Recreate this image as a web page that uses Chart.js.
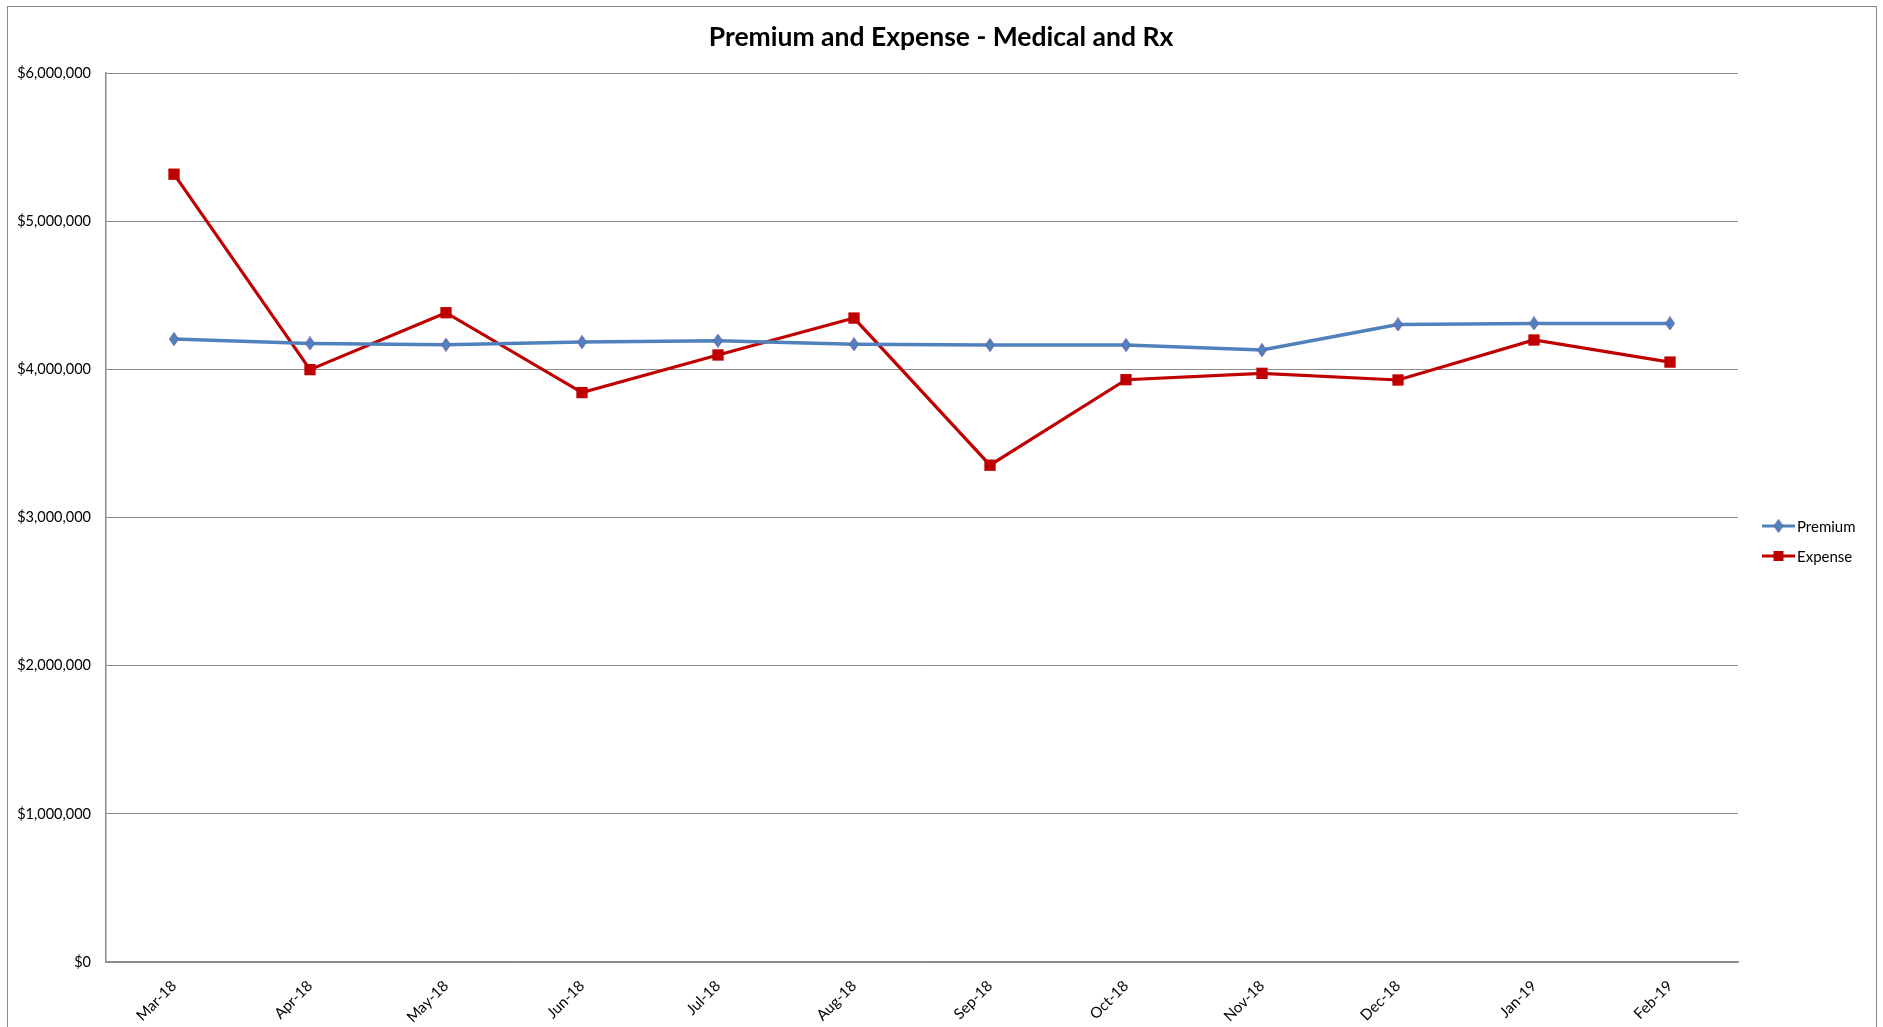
<!DOCTYPE html>
<html>
<head>
<meta charset="utf-8">
<script src="https://cdn.jsdelivr.net/npm/chart.js@4.4.0/dist/chart.umd.min.js"></script>
<style>
  html, body { margin: 0; padding: 0; background: #fff; overflow: hidden; }
  #wrap { width: 1883px; height: 1027px; position: relative; }
</style>
</head>
<body>
<div id="wrap"><canvas id="chart" width="1883" height="1027"></canvas></div>
<script>
const chartTitle = 'Premium and Expense - Medical and Rx';
const months = ['Mar-18', 'Apr-18', 'May-18', 'Jun-18', 'Jul-18', 'Aug-18',
                'Sep-18', 'Oct-18', 'Nov-18', 'Dec-18', 'Jan-19', 'Feb-19'];
const premium = [4204000, 4175000, 4166000, 4184000, 4193000, 4169000,
                 4164000, 4164000, 4130000, 4303000, 4310000, 4310000];
const expense = [5317000, 3998000, 4382000, 3843000, 4097000, 4346000,
                 3353000, 3930000, 3973000, 3928000, 4198000, 4049000];
const yTicks = [0, 1000000, 2000000, 3000000, 4000000, 5000000, 6000000];

const FONT = 'Lato, "Liberation Sans", sans-serif';
const blue = '#4F81BD';
const red = '#C00000';
const gridGray = '#8c8c8c';

// tall narrow diamond like the Excel marker
function makeDiamond() {
    const c = document.createElement('canvas');
    c.width = 10; c.height = 14;
    const g = c.getContext('2d');
    g.beginPath();
    g.moveTo(5, 0.5); g.lineTo(9.5, 7); g.lineTo(5, 13.5); g.lineTo(0.5, 7);
    g.closePath();
    g.fillStyle = blue;
    g.fill();
    g.strokeStyle = '#6a63a8';
    g.lineWidth = 1;
    g.stroke();
    return c;
}
const diamond = makeDiamond();

// title, legend and outer frame
const decor = {
    id: 'decor',
    afterDraw(chart) {
        const c = chart.ctx;
        c.save();
        c.strokeStyle = '#8a8a8a';
        c.lineWidth = 1;
        c.strokeRect(7.5, 6.5, 1869, 1100);

        c.fillStyle = '#000';
        c.font = 'bold 26.5px ' + FONT;
        c.textAlign = 'center';
        c.textBaseline = 'middle';
        c.fillText(chartTitle, 941, 37);

        c.font = '15px ' + FONT;
        c.textAlign = 'left';
        const items = [
            { label: 'Premium', color: blue, y: 526, mark: 'diamond' },
            { label: 'Expense', color: red, y: 556, mark: 'square' }
        ];
        items.forEach(it => {
            c.strokeStyle = it.color;
            c.lineWidth = 3;
            c.beginPath();
            c.moveTo(1762, it.y);
            c.lineTo(1795, it.y);
            c.stroke();
            if (it.mark === 'diamond') {
                c.drawImage(diamond, 1778.5 - 5, it.y - 7);
            } else {
                c.fillStyle = it.color;
                c.fillRect(1778.5 - 5, it.y - 5, 10, 10);
            }
            c.fillStyle = '#000';
            c.fillText(it.label, 1797, it.y + 1);
        });
        c.restore();
    }
};

const ctx = document.getElementById('chart').getContext('2d');
new Chart(ctx, {
    type: 'line',
    data: {
        labels: months,
        datasets: [{
            label: 'Premium',
            data: premium,
            borderColor: blue,
            backgroundColor: blue,
            borderWidth: 3.5,
            pointStyle: diamond,
            pointRadius: 6,
            pointHoverRadius: 6,
            tension: 0
        }, {
            label: 'Expense',
            data: expense,
            borderColor: red,
            backgroundColor: red,
            borderWidth: 3.2,
            pointStyle: 'rect',
            pointRadius: 8,
            pointHoverRadius: 8,
            pointBorderWidth: 0,
            tension: 0
        }]
    },
    options: {
        responsive: false,
        animation: false,
        layout: { padding: { left: 0, top: 73, right: 145, bottom: 0 } },
        plugins: {
            legend: { display: false },
            title: { display: false },
            tooltip: { enabled: false }
        },
        scales: {
            x: {
                offset: true,
                grid: { display: false },
                border: { display: true, color: gridGray, width: 1.5 },
                ticks: {
                    color: '#000',
                    font: { family: FONT, size: 15 },
                    minRotation: 45,
                    maxRotation: 45,
                    padding: 7
                },
                afterFit(scale) { scale.height = 65; }
            },
            y: {
                min: 0,
                max: 6000000,
                afterBuildTicks(scale) { scale.ticks = yTicks.map(v => ({ value: v })); },
                grid: { color: gridGray, lineWidth: 1, drawTicks: false },
                border: { display: true, color: gridGray, width: 1.5 },
                ticks: {
                    color: '#000',
                    font: { family: FONT, size: 14.5 },
                    padding: 15,
                    callback: v => '$' + Number(v).toLocaleString('en-US')
                },
                afterFit(scale) { scale.width = 106; }
            }
        }
    },
    plugins: [decor]
});
</script>
</body>
</html>
